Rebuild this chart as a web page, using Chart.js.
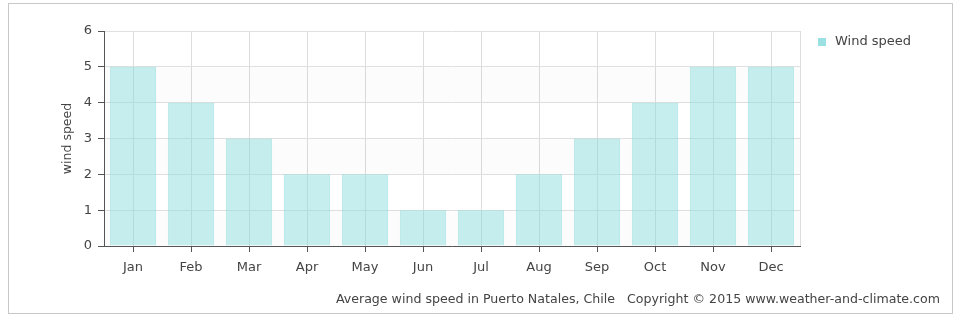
<!DOCTYPE html>
<html>
<head>
<meta charset="utf-8">
<script src="https://cdn.jsdelivr.net/npm/chart.js@4.4.0/dist/chart.umd.min.js"></script>
<style>
  html, body { margin: 0; padding: 0; background: #fff; }
  #wrap { width: 960px; height: 326px; }
</style>
</head>
<body>
<div id="wrap"><canvas id="windChart" width="960" height="326"></canvas></div>
<script>
// data
const months = ['Jan', 'Feb', 'Mar', 'Apr', 'May', 'Jun', 'Jul', 'Aug', 'Sep', 'Oct', 'Nov', 'Dec'];
const windSpeed = [5, 4, 3, 2, 2, 1, 1, 2, 3, 4, 5, 5];
const yTicks = [0, 1, 2, 3, 4, 5, 6];
const seriesName = 'Wind speed';
const yTitle = 'wind speed';
const footerText = 'Average wind speed in Puerto Natales, Chile   Copyright \u00a9 2015 www.weather-and-climate.com';

const FONT = '"DejaVu Sans", Verdana, sans-serif';
const barFill = 'rgba(144, 222, 222, 0.5)';
const barLine = 'rgba(130, 215, 215, 0.6)';

// frame, bands, axis title, legend and footer drawn by hand
const decorations = {
  id: 'decorations',
  beforeDatasetsDraw(chart) {
    const { ctx, chartArea: a, scales: { y } } = chart;
    ctx.save();
    // faint alternating bands
    for (let i = 0; i < yTicks.length - 1; i += 2) {
      const top = y.getPixelForValue(yTicks[i + 1]);
      const bot = y.getPixelForValue(yTicks[i]);
      ctx.fillStyle = 'rgba(0,0,0,0.012)';
      ctx.fillRect(a.left, top, a.right - a.left, bot - top);
    }
    ctx.restore();
  },
  afterDraw(chart) {
    const { ctx, chartArea: a } = chart;
    ctx.save();
    // right edge of plot
    ctx.strokeStyle = '#dcdcdc';
    ctx.lineWidth = 1;
    ctx.beginPath();
    ctx.moveTo(Math.round(a.right) + 0.5, a.top);
    ctx.lineTo(Math.round(a.right) + 0.5, a.bottom);
    ctx.stroke();
    // outer frame
    ctx.strokeStyle = '#c8c8c8';
    ctx.strokeRect(8.5, 3.5, 944, 310);
    // y axis title
    ctx.fillStyle = '#444';
    ctx.font = '12.5px ' + FONT;
    ctx.textBaseline = 'middle';
    ctx.textAlign = 'center';
    ctx.translate(68, (a.top + a.bottom) / 2);
    ctx.rotate(-Math.PI / 2);
    ctx.fillText(yTitle, 0, 0);
    ctx.setTransform(1, 0, 0, 1, 0, 0);
    // legend
    ctx.fillStyle = 'rgba(144, 222, 222, 0.9)';
    ctx.fillRect(818, 38, 8, 8);
    ctx.fillStyle = '#444';
    ctx.font = '13px ' + FONT;
    ctx.textAlign = 'left';
    ctx.fillText(seriesName, 835, 42);
    // footer
    ctx.font = '12.6px ' + FONT;
    ctx.textAlign = 'right';
    ctx.fillText(footerText, 940, 300);
    ctx.restore();
  }
};

new Chart(document.getElementById('windChart'), {
  type: 'bar',
  data: {
    labels: months,
    datasets: [{
      label: seriesName,
      data: windSpeed,
      backgroundColor: barFill,
      borderColor: barLine,
      borderWidth: 1,
      barPercentage: 0.8,
      categoryPercentage: 1
    }]
  },
  options: {
    responsive: false,
    animation: false,
    layout: { padding: { left: 0, right: 160, top: 31, bottom: 0 } },
    plugins: {
      legend: { display: false },
      tooltip: { enabled: false }
    },
    scales: {
      x: {
        offset: true,
        grid: { offset: false, color: '#dcdcdc', tickColor: '#555', tickLength: 6 },
        border: { color: '#555', width: 1 },
        ticks: { color: '#444', font: { family: FONT, size: 13 }, padding: 8, maxRotation: 0 },
        afterFit(scale) { scale.height = 80; }
      },
      y: {
        min: 0,
        max: 6,
        afterBuildTicks(scale) { scale.ticks = yTicks.map(v => ({ value: v })); },
        grid: { color: '#e0e0e0', tickColor: '#555', tickLength: 6 },
        border: { color: '#555', width: 1 },
        ticks: { color: '#444', font: { family: FONT, size: 13 }, padding: 6 },
        afterFit(scale) { scale.width = 104; }
      }
    }
  },
  plugins: [decorations]
});
</script>
</body>
</html>
